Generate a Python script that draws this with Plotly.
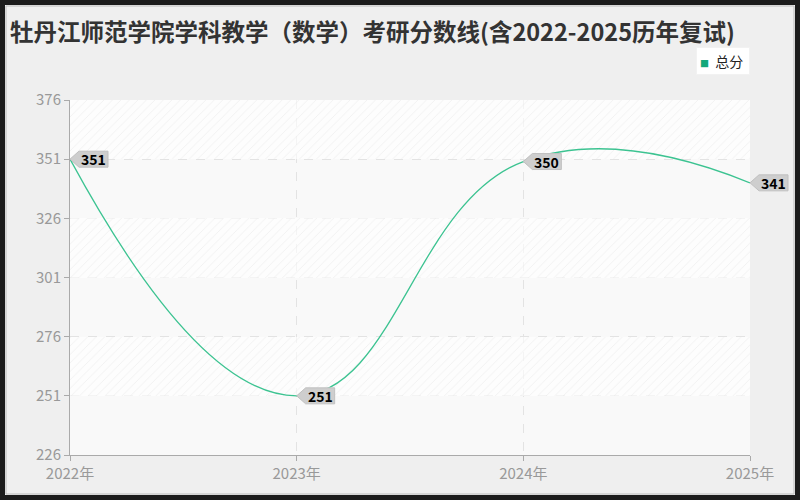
import plotly.graph_objects as go

# data
years = [2022, 2023, 2024, 2025]
year_labels = ["2022年", "2023年", "2024年", "2025年"]
scores = [351, 251, 350, 341]
y_ticks = [226, 251, 276, 301, 326, 351, 376]
hatched_bands = [351, 301, 251]  # lower edge of the striped bands
band_height = 25

title = "牡丹江师范学院学科教学（数学）考研分数线(含2022-2025历年复试)"
font_cjk = "Noto Sans CJK SC"

W, H = 800, 500
L, R, T, B = 70, 50, 100, 45
x_range = [years[0], years[-1]]


def px_x(px):
    return (px - L) / (W - L - R)


def px_y(py):
    return (H - B - py) / (H - T - B)


fig = go.Figure()

# striped background bands spanning the whole x range
fig.add_trace(go.Bar(
    x=[(x_range[0] + x_range[1]) / 2] * len(hatched_bands),
    y=[band_height] * len(hatched_bands),
    base=hatched_bands, width=x_range[1] - x_range[0],
    marker=dict(color="rgba(0,0,0,0)", line=dict(width=0),
                pattern=dict(shape="/", fgcolor="#e6e6e6", bgcolor="rgba(255,255,255,0.6)",
                             size=6, solidity=0.15)),
    hoverinfo="skip", showlegend=False,
))

fig.add_trace(go.Scatter(
    x=years, y=scores, mode="lines", name="总分",
    line=dict(color="#3cc391", width=1.3, shape="spline", smoothing=1.3),
    showlegend=False,
))

# value callouts: grey box with a pointer towards the point
for yr, sc in zip(years, scores):
    # x in paper units so the last callout is not clipped at the plot edge
    xa = (yr - x_range[0]) / (x_range[1] - x_range[0])
    fig.add_shape(
        type="path", xref="paper", yref="y", xsizemode="pixel", ysizemode="pixel",
        xanchor=xa, yanchor=sc,
        path="M0,0 L9,8 L38,8 L38,-8 L9,-8 Z",
        fillcolor="#cecece", line=dict(color="#c0c0c0", width=1), layer="above",
    )
    fig.add_annotation(
        x=yr, y=sc, text=str(sc), showarrow=False,
        xanchor="left", xshift=9, yshift=0,
        font=dict(family=font_cjk, size=14, color="#000", weight=600),
    )

# legend box
fig.add_annotation(
    xref="paper", yref="paper", x=1.0, y=px_y(47), xanchor="right", yanchor="top",
    text="<span style='color:#13a87a;font-size:9px'>■</span>  总分 ",
    showarrow=False, bgcolor="white", borderpad=3, bordercolor="#f2f2f2", borderwidth=1,
    font=dict(family=font_cjk, size=14, color="#222"),
)

# dark outer frame
fig.add_shape(type="rect", xref="paper", yref="paper",
              x0=px_x(2.5), x1=px_x(797.5), y0=px_y(497.5), y1=px_y(2.5),
              line=dict(color="#1b1b1b", width=5), layer="above")
fig.add_shape(type="rect", xref="paper", yref="paper",
              x0=px_x(6), x1=px_x(794), y0=px_y(494), y1=px_y(6),
              line=dict(color="#bbbbbb", width=1), layer="above")

fig.update_layout(
    width=W, height=H,
    margin=dict(l=L, r=R, t=T, b=B),
    paper_bgcolor="#efefef",
    plot_bgcolor="#f9f9f9",
    font=dict(family=font_cjk),
    showlegend=False,
    title=dict(text="<b>" + title + "</b>", x=10 / W, xanchor="left",
               y=1 - 33 / H, yanchor="middle",
               font=dict(family=font_cjk, size=23.5, color="#333")),
    xaxis=dict(range=x_range, tickvals=years, ticktext=year_labels,
               showgrid=True, gridcolor="#e3e3e3", griddash="dash",
               showline=True, linecolor="#aaaaaa", ticks="outside",
               ticklen=5, tickcolor="#aaaaaa", zeroline=False,
               tickfont=dict(size=15, color="#999999")),
    yaxis=dict(range=[226, 376], tickvals=y_ticks,
               showgrid=True, gridcolor="#e3e3e3", griddash="dash",
               showline=True, linecolor="#aaaaaa", ticks="outside",
               ticklen=5, tickcolor="#aaaaaa", zeroline=False,
               tickfont=dict(size=15, color="#999999")),
    bargap=0,
)

fig.write_html("out.html", config={"displayModeBar": False},
               post_script="document.body.style.margin='0';")
